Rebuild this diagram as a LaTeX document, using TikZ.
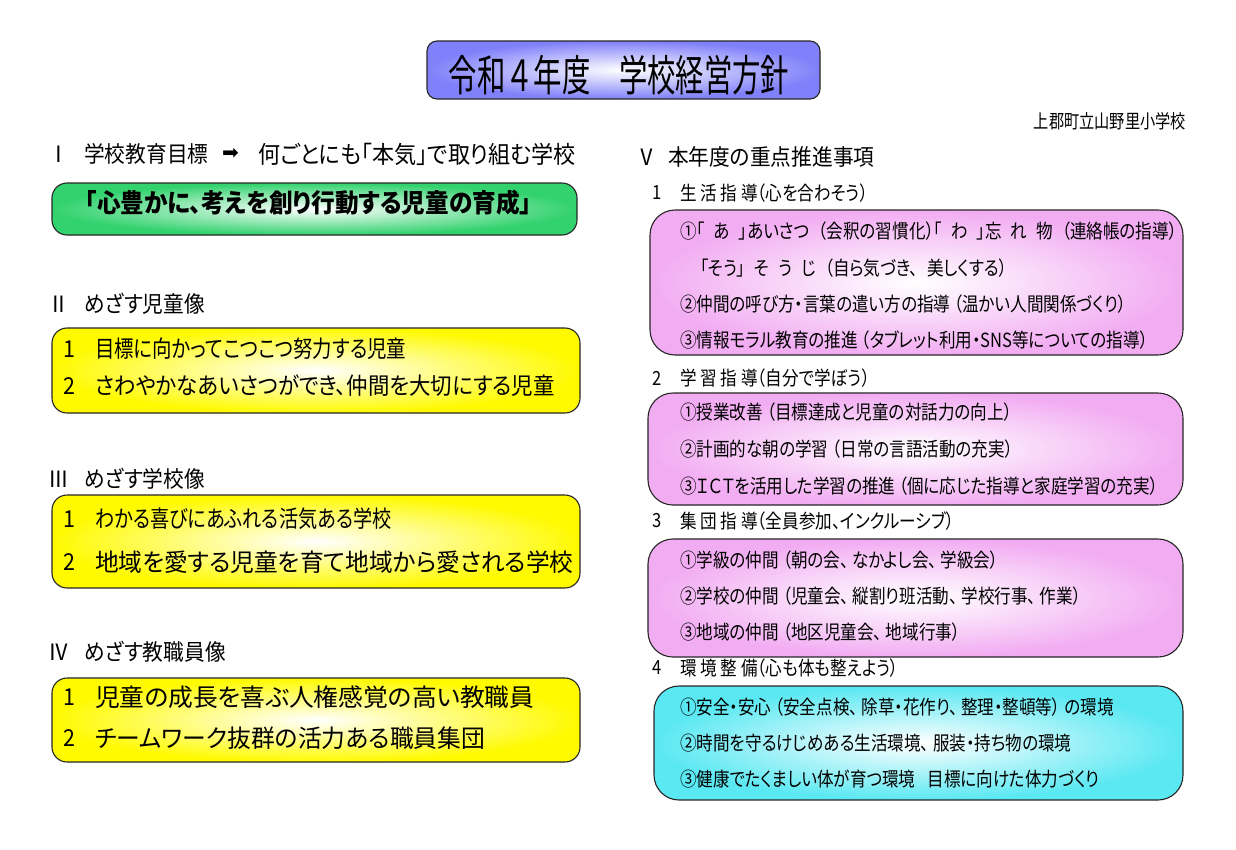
\documentclass[tikz,border=0pt]{standalone}
\usepackage{fontspec}
\setmainfont{Noto Sans CJK JP}[RawFeature=+palt,FakeStretch=0.92]
\newfontfamily\rightfont{Noto Sans CJK JP}[RawFeature=+palt,FakeStretch=0.85]
\newfontfamily\titlefont{Noto Sans CJK JP}[FakeStretch=0.66]
\newfontfamily\namefont{Noto Sans CJK JP}[FakeStretch=0.8]
\newfontfamily\arrowfont{DejaVu Sans}
\definecolor{titleblue}{RGB}{128,128,250}
\definecolor{goalgreen}{RGB}{50,210,110}
\definecolor{boxyellow}{RGB}{255,250,0}
\definecolor{boxpink}{RGB}{242,172,242}
\definecolor{boxcyan}{RGB}{90,232,242}
\newcommand{\gap}{\hspace{9pt}}
\tikzset{
  box/.style={draw=black!85,line width=1.1pt,rounded corners=15pt,inner color=white},
  big/.style={anchor=west,inner sep=0pt,font=\fontsize{22.5}{26}\selectfont},
  bigsz/.style={anchor=west,inner sep=0pt,font=\fontsize{#1}{#1}\selectfont},
  line/.style 2 args={anchor=west,inner sep=0pt,font=\fontsize{#1}{#1}\selectfont\addfontfeatures{FakeStretch=#2}},
  small/.style={anchor=west,inner sep=0pt,font=\rightfont\fontsize{19.5}{23}\selectfont},
}
\begin{document}
\begin{tikzpicture}[x=1pt,y=-1pt]
\useasboundingbox (0,0) rectangle (1236,849);
\fill[white] (0,0) rectangle (1236,849);
% title
\draw[box,rounded corners=10pt,outer color=titleblue] (427,41) rectangle (820,99);
\node[inner sep=0pt,font=\titlefont\fontsize{43}{43}\selectfont] (title) at (619,75) {令和４年度　学校経営方針};
\node[anchor=east,inner sep=0pt,font=\namefont\fontsize{19}{19}\selectfont] (school) at (1186,121) {上郡町立山野里小学校};
% I
\node[big] (h1) at (48,154) {Ⅰ};
\node[big] (h1t) at (84,154) {学校教育目標};
\node[anchor=west,inner sep=0pt,font=\arrowfont\fontsize{20}{20}\selectfont] (h1a) at (222,154) {➡};
\node[bigsz=24] (h1g) at (258,154) {何ごとにも「本気」で取り組む学校};
\draw[box,outer color=goalgreen] (52,183) rectangle (577,235);
\node[big,font=\bfseries\fontsize{25.7}{28}\selectfont] (goal) at (85,203) {「心豊かに、考えを創り行動する児童の育成」};
% II
\node[big] (h2) at (48,304) {Ⅱ};
\node[big] (h2t) at (84,304) {めざす児童像};
\draw[box,outer color=boxyellow] (52,328) rectangle (580,413);
\foreach \y/\s/\w/\t [count=\i] in {349/23.3/0.834/目標に向かってこつこつ努力する児童,386/23.3/0.92/さわやかなあいさつができ、仲間を大切にする児童}{
  \node[bigsz=23.3] (c\i) at (63,\y) {\i};
  \node[line={\s}{\w}] (ct\i) at (95,\y) {\t};
}
% III
\node[big] (h3) at (48,479) {Ⅲ};
\node[big] (h3t) at (84,479) {めざす学校像};
\draw[box,outer color=boxyellow] (52,495) rectangle (580,588);
\foreach \y/\s/\w/\t [count=\i] in {519/23.3/0.822/わかる喜びにあふれる活気ある学校,562/24.5/0.967/地域を愛する児童を育て地域から愛される学校}{
  \node[bigsz=23.3] (s\i) at (63,\y) {\i};
  \node[line={\s}{\w}] (st\i) at (95,\y) {\t};
}
% IV
\node[big] (h4) at (48,652) {Ⅳ};
\node[big] (h4t) at (84,652) {めざす教職員像};
\draw[box,outer color=boxyellow] (52,678) rectangle (580,762);
\foreach \y/\s/\w/\t [count=\i] in {697/24.5/1.01/児童の成長を喜ぶ人権感覚の高い教職員,738/24.5/0.97/チームワーク抜群の活力ある職員集団}{
  \node[bigsz=23.3] (t\i) at (63,\y) {\i};
  \node[line={\s}{\w}] (tt\i) at (95,\y) {\t};
}
% V
\node[big] (h5) at (636,157) {Ⅴ};
\node[big] (h5t) at (668,157) {本年度の重点推進事項};
\foreach \y/\t [count=\i] in {193/生 活 指 導（心を合わそう）,378/学 習 指 導（自分で学ぼう）,521/集 団 指 導（全員参加、インクルーシブ）,668/環 境 整 備（心も体も整えよう）}{
  \node[small] (p\i) at (652,\y) {\i};
  \node[small] (pt\i) at (680,\y) {\t};
}
\draw[box,rounded corners=25pt,outer color=boxpink] (650,210) rectangle (1183,355);
\node[small] (a1) at (680,231) {①「\gap あ\gap 」あいさつ\gap （会釈の習慣化）「\gap わ\gap 」忘\gap れ\gap 物\gap （連絡帳の指導）};
\node[small] (a1b) at (700,268) {「そう」\gap そ\gap う\gap じ\gap （自ら気づき、\gap 美しくする）};
\node[small] (a2) at (680,304) {②仲間の呼び方・言葉の遣い方の指導 （温かい人間関係づくり）};
\node[small] (a3) at (680,340) {③情報モラル教育の推進 （タブレット利用・SNS等についての指導）};
\draw[box,rounded corners=25pt,outer color=boxpink] (648,393) rectangle (1183,505);
\foreach \y/\t [count=\i] in {412/①授業改善 （目標達成と児童の対話力の向上）,449/②計画的な朝の学習 （日常の言語活動の充実）,486/③ＩＣＴを活用した学習の推進 （個に応じた指導と家庭学習の充実）}{
  \node[small] (b\i) at (680,\y) {\t};
}
\draw[box,rounded corners=25pt,outer color=boxpink] (648,539) rectangle (1183,657);
\foreach \y/\t [count=\i] in {560/①学級の仲間 （朝の会、\ なかよし会、\ 学級会）,596/②学校の仲間 （児童会、\ 縦割り班活動、\ 学校行事、\ 作業）,632/③地域の仲間 （地区児童会、\ 地域行事）}{
  \node[small] (g\i) at (680,\y) {\t};
}
\draw[box,rounded corners=25pt,outer color=boxcyan] (654,686) rectangle (1183,800);
\foreach \y/\t [count=\i] in {707/①安全・安心 （安全点検、\ 除草・花作り、\ 整理・整頓等） の環境,743/②時間を守るけじめある生活環境、\ 服装・持ち物の環境,779/③健康でたくましい体が育つ環境\hspace{12pt}目標に向けた体力づくり}{
  \node[small] (e\i) at (680,\y) {\t};
}
\end{tikzpicture}
\end{document}
